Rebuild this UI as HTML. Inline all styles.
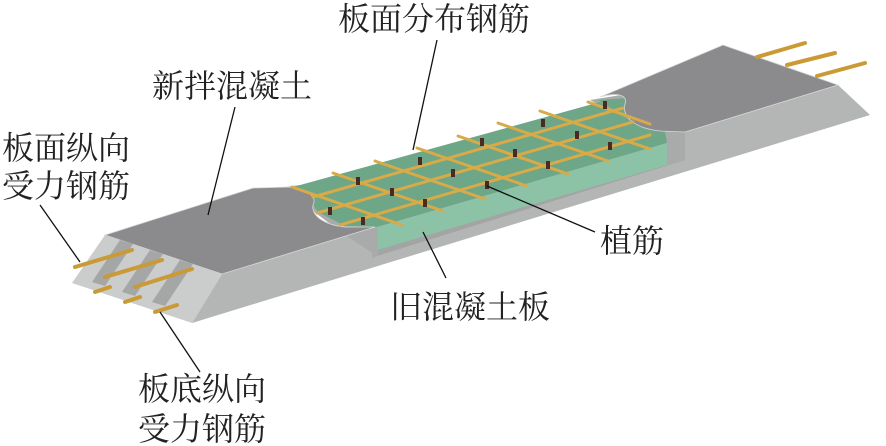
<!DOCTYPE html>
<html><head><meta charset="utf-8"><style>
html,body{margin:0;padding:0;background:#fff}
svg{display:block}
text{font-family:"Liberation Serif","Noto Serif CJK SC",serif;font-size:32px;fill:#222}
</style></head><body>
<svg width="886" height="446" viewBox="0 0 886 446" xmlns="http://www.w3.org/2000/svg">
<polygon points="192,323 222,274 838,85 870,115" fill="#b4b5b5"/>
<polygon points="285,187 300,185 377,227 377,256 345,235 305,205" fill="#a9aaaa"/>
<polygon points="300,186 377,227 345,226 318,212" fill="#6ea688"/>
<polygon points="590,100 640,92 685,132 685,160 667,165 667,143" fill="#a9aaaa"/>
<polygon points="598,100 630,98 665,132 667,143" fill="#6ea688"/>
<polygon points="293,187 600,102 667,143 377,227" fill="#6ea688"/>
<polygon points="377,227 667,143 667,165 377,250" fill="#8cc2a6"/>
<polygon points="377,250 667,165 685,160 377,256" fill="#a3a4a4"/>
<polygon points="667,132 685,132 685,160 667,165" fill="#a9aaaa"/>
<polygon points="372,227 378,227 378,256 372,258" fill="#a9aaaa"/>
<path d="M723,45 L838,85 L685,132 L660,131 C632,128 622,115 625,104 C628,95 618,92 600,97 Z" fill="#8b8b8e" stroke="#d8d8d8" stroke-width="0.8"/>
<path d="M105,235 L253,188 L290,187 C305,190 318,195 313,205 C311,216 325,225 345,227 L375,227 L222,274 Z" fill="#8b8b8e" stroke="#d8d8d8" stroke-width="0.8"/>
<polygon points="105,235 222,274 192,323 72,283" fill="#cbcccc"/>
<polygon points="120,240 133,244 105,286 92,282" fill="#a5a6a6"/>
<polygon points="150,250 163,254 135,296 122,292" fill="#a5a6a6"/>
<polygon points="180,260 193,264 165,306 152,302" fill="#a5a6a6"/>
<g stroke="#c99a36" stroke-width="4" stroke-linecap="round">
<line x1="75" y1="267" x2="132" y2="250"/>
<line x1="105" y1="277" x2="162" y2="260"/>
<line x1="135" y1="287" x2="192" y2="269"/>
<line x1="95" y1="292" x2="110" y2="287"/>
<line x1="125" y1="302" x2="140" y2="297"/>
<line x1="155" y1="312" x2="177" y2="305"/>
<line x1="757" y1="57" x2="805" y2="43"/>
<line x1="787" y1="65" x2="835" y2="53"/>
<line x1="817" y1="76" x2="865" y2="63"/>
</g>
<g stroke="#d8aa48" stroke-width="3" stroke-linecap="round">
<line x1="313" y1="197" x2="623" y2="108"/>
<line x1="317" y1="213" x2="633" y2="122"/>
<line x1="340" y1="225" x2="650" y2="135"/>
<line x1="292" y1="187" x2="402" y2="225"/>
<line x1="333" y1="173" x2="443" y2="211"/>
<line x1="375" y1="161" x2="485" y2="199"/>
<line x1="417" y1="148" x2="527" y2="186"/>
<line x1="458" y1="136" x2="568" y2="174"/>
<line x1="498" y1="123" x2="608" y2="161"/>
<line x1="540" y1="111" x2="650" y2="149"/>
<line x1="588" y1="102" x2="650" y2="124"/>
</g>
<g fill="#4a2a22">
<rect x="603" y="101" width="4" height="8"/><rect x="541" y="119" width="4" height="8"/>
<rect x="575" y="131" width="4" height="8"/><rect x="608" y="142" width="4" height="8"/>
<rect x="480" y="138" width="4" height="8"/><rect x="513" y="149" width="4" height="8"/>
<rect x="546" y="161" width="4" height="8"/><rect x="418" y="157" width="4" height="8"/>
<rect x="451" y="169" width="4" height="8"/><rect x="485" y="181" width="4" height="8"/>
<rect x="356" y="177" width="4" height="8"/><rect x="390" y="188" width="4" height="8"/>
<rect x="423" y="199" width="4" height="8"/><rect x="328" y="207" width="4" height="8"/>
<rect x="361" y="217" width="4" height="8"/>
</g>
<g stroke="#111" stroke-width="1.3">
<line x1="437" y1="40" x2="413" y2="150"/>
<line x1="235" y1="107" x2="208" y2="215"/>
<line x1="40" y1="205" x2="80" y2="262"/>
<line x1="595" y1="232" x2="487" y2="186"/>
<line x1="446" y1="278" x2="423" y2="232"/>
<line x1="200" y1="372" x2="160" y2="312"/>
</g>
<text x="338" y="30">板面分布钢筋</text>
<text x="152" y="97">新拌混凝土</text>
<text x="2" y="159">板面纵向</text>
<text x="2" y="197">受力钢筋</text>
<text x="600" y="252">植筋</text>
<text x="390" y="318">旧混凝土板</text>
<text x="138" y="400">板底纵向</text>
<text x="138" y="440">受力钢筋</text>
</svg>
</body></html>
